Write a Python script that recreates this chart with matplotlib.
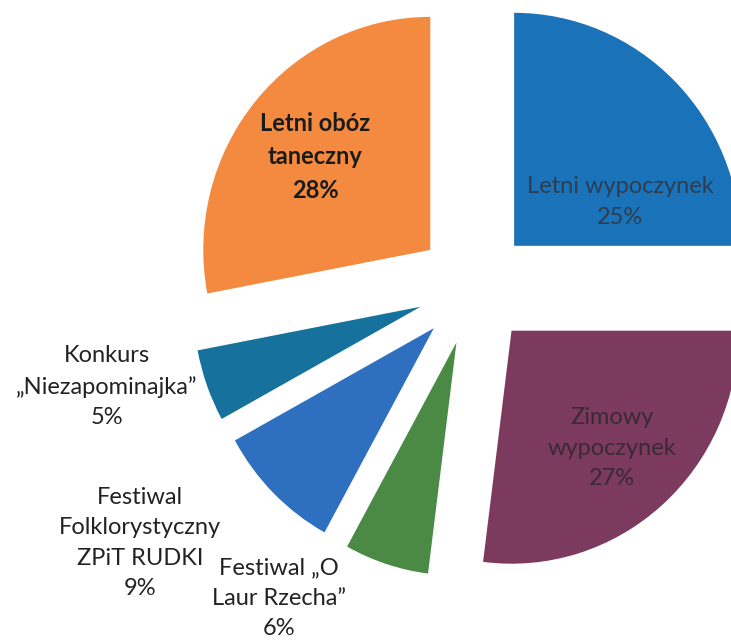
import matplotlib
matplotlib.use("Agg")
import matplotlib.pyplot as plt

# slices, clockwise from 12 o'clock
labels = [
    "Letni wypoczynek\n25%",
    "Zimowy\nwypoczynek\n27%",
    "Festiwal \u201eO\nLaur Rzecha\u201d\n6%",
    "Festiwal\nFolklorystyczny\nZPiT RUDKI\n9%",
    "Konkurs\n\u201eNiezapominajka\u201d\n5%",
    "Letni ob\u00f3z\ntaneczny\n28%",
]
shares = [25, 27, 6, 9, 5, 28]
colors = ["#1a72b8", "#7b3a5e", "#4a8a45", "#2f6fc0", "#16729c", "#f48a40"]

# label placement (data coords) and style
label_pos = [(0.643, 0.365), (0.608, -0.691), (-0.86, -1.335),
             (-1.471, -1.099), (-1.617, -0.429), (-0.70, 0.558)]
label_col = ["#2e3d4f", "#3a2a35", "#222222", "#222222", "#222222", "#1a1a1a"]
label_weight = ["normal", "normal", "normal", "normal", "normal", "bold"]

plt.rcParams["font.family"] = ["Lato", "DejaVu Sans"]

fig = plt.figure(figsize=(7.31, 6.41), dpi=100)
ax = fig.add_axes([0, 0, 1, 1])

ax.pie(shares, colors=colors, startangle=90, counterclock=False,
       explode=[0.25] * len(shares), radius=1.0,
       wedgeprops=dict(linewidth=0))

for txt, pos, c, w in zip(labels, label_pos, label_col, label_weight):
    ax.text(pos[0], pos[1], txt, ha="center", va="center", fontsize=17,
            color=c, fontweight=w, linespacing=1.55)

ax.set_aspect("auto")
ax.set_xlim(-474 / 227, (731 - 474) / 227)
ax.set_ylim(-354 / 233, 287 / 233)
ax.axis("off")

fig.savefig("out.png", dpi=100)
